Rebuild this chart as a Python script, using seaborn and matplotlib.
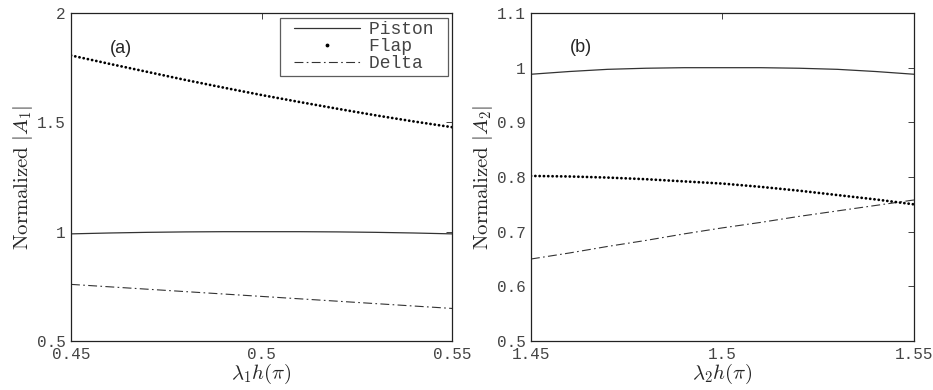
import numpy as np
import pandas as pd
import matplotlib
matplotlib.use('Agg')
import matplotlib.pyplot as plt
from matplotlib.lines import Line2D
from matplotlib.legend_handler import HandlerLine2D
from matplotlib.ticker import FuncFormatter
import seaborn as sns

# panel (a): first mode
x_a = [0.45, 0.46, 0.47, 0.48, 0.49, 0.50, 0.51, 0.52, 0.53, 0.54, 0.55]
piston_a = [0.990, 0.994, 0.997, 0.999, 1.000, 1.000, 1.000, 0.999, 0.997, 0.994, 0.990]
flap_a = [1.806, 1.768, 1.731, 1.694, 1.659, 1.625, 1.593, 1.562, 1.532, 1.504, 1.478]
delta_a = [0.759, 0.748, 0.737, 0.726, 0.715, 0.704, 0.693, 0.682, 0.671, 0.660, 0.649]

# panel (b): second mode
x_b = [1.45, 1.46, 1.47, 1.48, 1.49, 1.50, 1.51, 1.52, 1.53, 1.54, 1.55]
piston_b = [0.988, 0.993, 0.997, 0.999, 1.000, 1.000, 1.000, 0.999, 0.997, 0.993, 0.988]
flap_b = [0.802, 0.801, 0.799, 0.796, 0.792, 0.788, 0.782, 0.775, 0.767, 0.759, 0.750]
delta_b = [0.650, 0.661, 0.673, 0.684, 0.696, 0.707, 0.717, 0.728, 0.738, 0.748, 0.758]

sns.set_style('white')
plt.rcParams['mathtext.fontset'] = 'cm'
MONO = 'Liberation Mono'
TXT = '#444444'

fig = plt.figure(figsize=(9.33, 3.9), dpi=100)
ax_a = fig.add_axes([0.0761, 0.1256, 0.4084, 0.841])
ax_b = fig.add_axes([0.5691, 0.1256, 0.4105, 0.841])

DASHDOT = (0, (8, 3, 1.5, 3))


def draw(ax, x, piston, flap, delta):
    df = pd.DataFrame({'x': x, 'Piston': piston, 'Flap': flap, 'Delta': delta})
    sns.lineplot(data=df, x='x', y='Piston', ax=ax, color='#333333', lw=0.9)
    sns.lineplot(data=df, x='x', y='Delta', ax=ax, color='#333333', lw=0.8,
                 linestyle=DASHDOT)
    sns.lineplot(data=df, x='x', y='Flap', ax=ax, color='black', lw=2.0,
                 linestyle=(0, (0.05, 1.5)), dash_capstyle='round')


draw(ax_a, x_a, piston_a, flap_a, delta_a)
draw(ax_b, x_b, piston_b, flap_b, delta_b)

fmt = FuncFormatter(lambda v, p: '%g' % round(v, 3))

ax_a.set_xlim(0.45, 0.55)
ax_a.set_ylim(0.5, 2)
ax_a.set_xticks([0.45, 0.5, 0.55])
ax_a.set_yticks([0.5, 1, 1.5, 2])

ax_b.set_xlim(1.45, 1.55)
ax_b.set_ylim(0.5, 1.1)
ax_b.set_xticks([1.45, 1.5, 1.55])
ax_b.set_yticks([0.5, 0.6, 0.7, 0.8, 0.9, 1.0, 1.1])

for ax, n, tag, tx, ty in [(ax_a, 1, '(a)', 0.4602, 1.84), (ax_b, 2, '(b)', 1.4602, 1.037)]:
    ax.xaxis.set_major_formatter(fmt)
    ax.yaxis.set_major_formatter(fmt)
    ax.tick_params(direction='in', top=True, right=True, length=4, width=0.6,
                   labelsize=11.5, pad=4, color='#222222', labelcolor=TXT)
    for lab in ax.get_xticklabels() + ax.get_yticklabels():
        lab.set_fontfamily(MONO)
    for s in ax.spines.values():
        s.set_linewidth(0.9)
        s.set_color('#222222')
    ax.set_xlabel(r'$\lambda_%d h(\pi)$' % n, fontsize=15, labelpad=0)
    ax.set_ylabel(r'$\mathrm{Normalized}\ |A_%d|$' % n, fontsize=15, labelpad=1)
    ax.text(tx, ty, tag, fontsize=13, family='Liberation Sans', va='center')

handles = [
    Line2D([], [], color='#333333', lw=0.9),
    Line2D([], [], color='black', marker='.', markersize=3.5, linestyle='none'),
    Line2D([], [], color='#333333', lw=0.8, linestyle=DASHDOT),
]
leg = ax_a.legend(handles, ['Piston ', 'Flap ', 'Delta '], loc='upper right',
                  prop={'family': MONO, 'size': 13}, frameon=True, fancybox=False,
                  edgecolor='#333333', handlelength=4.2, borderaxespad=0.25,
                  labelspacing=0.0, handletextpad=0.5, borderpad=0.2,
                  handler_map={Line2D: HandlerLine2D(xpad=0.55)})
leg.get_frame().set_linewidth(0.9)
for t in leg.get_texts():
    t.set_color(TXT)

fig.savefig('out.png', dpi=100)
